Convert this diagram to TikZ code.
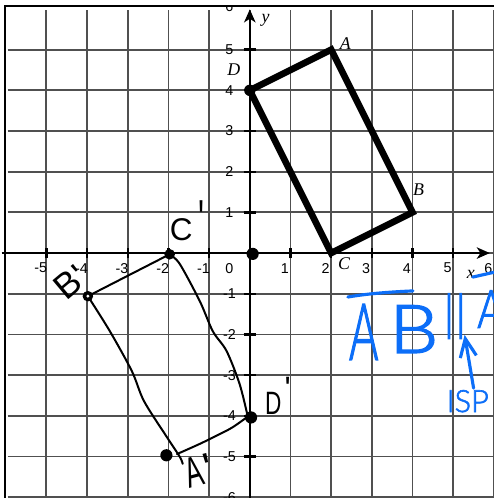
\documentclass[tikz,border=0pt]{standalone}
\usepackage{fontspec}
\setmainfont{Liberation Serif}
\newfontfamily\tickfont{Liberation Sans}
\newfontfamily\handfont[Ligatures=TeXOff]{Liberation Sans}
\newfontfamily\bluefont[FakeBold=2]{Lato Light}
\usetikzlibrary{arrows.meta}
\definecolor{inkblue}{RGB}{12,110,248}
\definecolor{gridgray}{RGB}{80,80,80}
\begin{document}
\begin{tikzpicture}[
  gridline/.style={gridgray, line width=1.25pt},
  axisline/.style={black, line width=1.6pt, -{Stealth[length=3.2mm,width=2.8mm,inset=0.9mm]}},
  tickmark/.style={black, line width=1.6pt},
  ticklabel/.style={font=\tickfont\fontsize{10}{10}\selectfont, inner sep=0pt},
  vlabel/.style={font=\itshape\fontsize{12.5}{12.5}\selectfont, inner sep=0pt},
  rectline/.style={black, line width=4.6pt, line join=miter},
  inkline/.style={black, line width=1.4pt, line cap=round, line join=round},
  blueink/.style={inkblue, line width=2.2pt, line cap=round},
  bluetext/.style={inkblue, inner sep=0pt},
  blacktext/.style={black, inner sep=0pt},
]
\useasboundingbox (-6.14,-6.02) rectangle (6.0,6.22);
\fill[white] (-6.14,-6.02) rectangle (6.0,6.22);
% grid
\foreach \i in {-5,...,6} \draw[gridline] (\i,-6.1) -- (\i,5.97);
\foreach \j in {-6,...,5} \draw[gridline] (-5.95,\j) -- (6.1,\j);
% axes
\draw[axisline] (-6.1,0) -- (5.9,0);
\draw[axisline] (0,-6.1) -- (0,5.99);
\foreach \i in {-5,...,-1,1,2,3,4,5} {
  \draw[tickmark] (\i,-0.13) -- (\i,0.13);
  \draw[tickmark] (-0.15,\i) -- (0.15,\i);
}
% tick labels
\foreach \i in {-5,...,-1,1,2,3,4,5,6}
  \node[ticklabel] (xl\i) at (\i-0.14,-0.37) {\i};
\foreach \j in {-6,...,-1,1,2,3,4,5}
  \node[ticklabel] (yl\j) at (-0.5,\j) {\j};
\node[ticklabel] (yl6) at (-0.5,6.05) {6};
\node[ticklabel] (zero) at (-0.5,-0.37) {0};
\node[vlabel] (xname) at (5.43,-0.52) {x};
\node[vlabel] (yname) at (0.39,5.72) {y};
% white strip above the frame and frame
\fill[white] (-6.2,6.07) rectangle (6.1,6.3);
\draw[black, line width=1.6pt] (-6.02,-6.2) rectangle (6.3,6.07);
% original rectangle
\coordinate (A) at (2,5);
\coordinate (B) at (4,1);
\coordinate (C) at (2,0);
\coordinate (D) at (0,4);
\draw[rectline] (A) -- (B) -- (C) -- (D) -- cycle;
\fill[black] (D) circle (0.14);
\node[vlabel] (lA) at (2.35,5.15) {A};
\node[vlabel] (lB) at (4.15,1.55) {B};
\node[vlabel] (lC) at (2.32,-0.27) {C};
\node[vlabel] (lD) at (-0.39,4.5) {D};
% origin dot
\coordinate (O) at (0.07,-0.02);
\fill[black] (O) circle (0.15);
% hand-drawn image
\coordinate (Cp) at (-1.97,-0.03);
\coordinate (Bp) at (-3.98,-1.06);
\coordinate (Ap) at (-1.79,-4.94);
\coordinate (Apdot) at (-2.05,-4.97);
\coordinate (Dp) at (-0.05,-4.02);
\draw[inkline] (Cp) -- (Bp);
\draw[inkline] plot[smooth, tension=0.5] coordinates {(Bp) (-3.44,-1.92) (-2.9,-2.9) (-2.6,-3.64) (-2.04,-4.52) (-1.72,-5.01) (-1.65,-5.18)};
\draw[inkline] plot[smooth, tension=0.5] coordinates {(Ap) (-1.23,-4.69) (-0.74,-4.45) (-0.42,-4.28) (Dp)};
\draw[inkline] plot[smooth, tension=0.5] coordinates {(Cp) (-1.72,-0.27) (-1.23,-1.18) (-0.91,-1.92) (-0.57,-2.41) (-0.25,-3.22) (Dp)};
\fill[black] (Cp) circle (0.13);
\fill[black] (Bp) circle (0.13);
\fill[white] (Bp) circle (0.04);
\fill[black] (Apdot) circle (0.15);
\fill[black] (Dp) ++(0.08,-0.02) circle (0.15);
% hand labels
\node[blacktext, anchor=base west, font=\handfont\fontsize{22}{22}\selectfont] (lCp) at (-1.97,0.32) {C\kern0.15cm\raisebox{0.07cm}{\scalebox{1}[1.7]{'}}};
\node[blacktext, anchor=base west, rotate=40, font=\handfont\fontsize{25}{25}\selectfont] (lBp) at (-4.5,-1.2) {B'};
\node[blacktext, anchor=base west, rotate=15, font=\handfont\fontsize{30}{30}\selectfont] (lAp) at (-1.5,-5.8) {\scalebox{0.6}[1]{A}\kern0.08cm'};
\node[blacktext, anchor=base west, font=\handfont\fontsize{22.6}{22.6}\selectfont] (lDp) at (0.37,-3.96) {\scalebox{0.7}[1]{D}\kern0.08cm\raisebox{0.35cm}{'}};
% blue annotation
\draw[blueink] (2.41,-1.08) .. controls (3.0,-0.98) and (3.6,-0.95) .. (4.01,-0.93);
\draw[blueink] (5.48,-0.59) -- (6.1,-0.45);
\node[bluetext, font=\bluefont\fontsize{55}{55}\selectfont] (tA1) at (2.80,-1.94) {\scalebox{0.57}[1]{A}};
\node[bluetext, font=\bluefont\fontsize{47}{47}\selectfont] (tB) at (4.03,-1.87) {\scalebox{1.16}[1]{B}};
\node[bluetext, font=\bluefont\fontsize{34}{34}\selectfont] (tpar) at (5.04,-1.55) {||};
\node[bluetext, font=\bluefont\fontsize{37}{37}\selectfont] (tA2) at (5.93,-1.38) {\scalebox{0.8}[1]{A}};
\node[bluetext, anchor=west, font=\bluefont\fontsize{21.5}{21.5}\selectfont] (isp) at (4.83,-3.64) {ISP};
\coordinate (arrbase) at (5.50,-3.32);
\coordinate (arrtip) at (5.28,-2.01);
\draw[blueink, -{Straight Barb[length=4.5mm,width=4mm]}] (arrbase) -- (arrtip);
\end{tikzpicture}
\end{document}
